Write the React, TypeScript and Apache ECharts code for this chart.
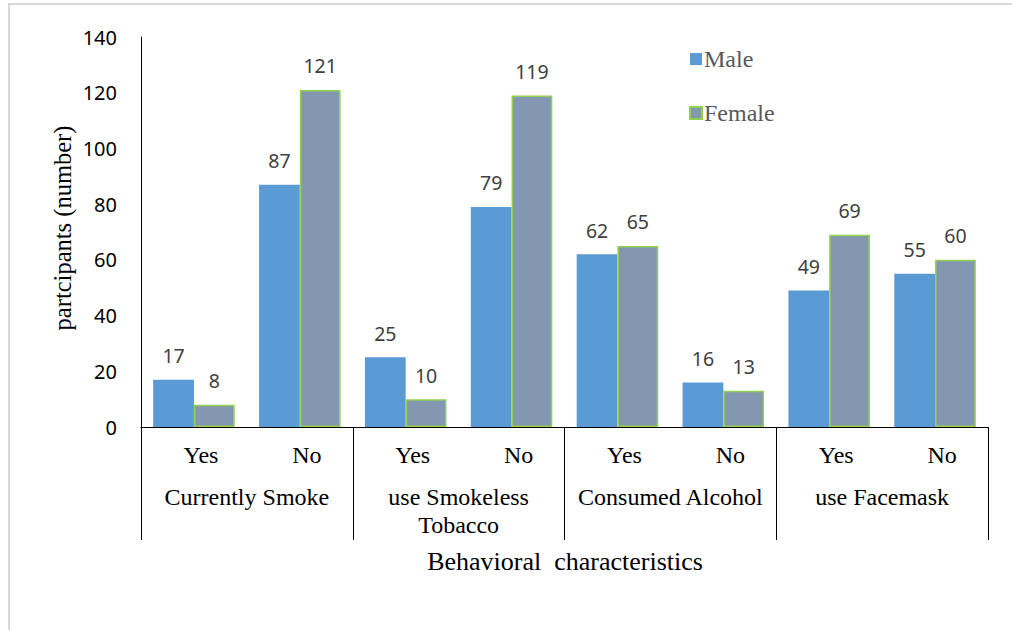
import React, { useEffect, useRef } from "react";
import * as echarts from "echarts";

// Behaviour questions, each answered Yes / No, split by sex
const answers = ["Yes", "No", "Yes", "No", "Yes", "No", "Yes", "No"];
const groups = ["Currently Smoke", "use Smokeless\nTobacco", "Consumed Alcohol", "use Facemask"];
const maleCounts = [17, 87, 25, 79, 62, 16, 49, 55];
const femaleCounts = [8, 121, 10, 119, 65, 13, 69, 60];
const yTicks = { min: 0, max: 140, interval: 20 };

const SERIF = "'Liberation Serif', 'Times New Roman', serif";
const SANS = "'Noto Sans', 'Open Sans', sans-serif";

export default function App() {
  const ref = useRef<HTMLDivElement>(null);

  useEffect(() => {
    document.body.style.margin = "0";
    if (!ref.current) return;
    const chart = echarts.init(ref.current, null, { renderer: "svg" });

    const valueLabel = {
      show: true,
      position: "top" as const,
      distance: 14,
      fontFamily: SANS,
      fontSize: 19.5,
      color: "#404040",
    };

    chart.setOption({
      animation: false,
      backgroundColor: "#ffffff",
      grid: { left: 141, right: 24, top: 37, bottom: 203, containLabel: false },
      legend: {
        orient: "vertical",
        left: 684,
        top: 42,
        itemGap: 30,
        itemWidth: 12,
        itemHeight: 12,
        icon: "rect",
        textStyle: { fontFamily: SERIF, fontSize: 24, color: "#595959", padding: [0, 0, 0, -3] },
        data: ["Male", "Female"],
      },
      xAxis: [
        {
          type: "category",
          data: answers,
          position: "bottom",
          axisLine: { show: true, lineStyle: { color: "#000", width: 1 } },
          axisTick: { show: false },
          axisLabel: {
            fontFamily: SERIF,
            fontSize: 24,
            color: "#000",
            margin: 16,
            padding: [0, 0, 0, 14],
            interval: 0,
          },
        },
        {
          type: "category",
          data: groups,
          position: "bottom",
          axisLine: { show: false },
          axisTick: { show: true, length: 113, lineStyle: { color: "#000", width: 1 } },
          axisLabel: {
            fontFamily: SERIF,
            fontSize: 24,
            color: "#000",
            margin: 56,
            lineHeight: 28,
            interval: 0,
          },
        },
      ],
      yAxis: {
        type: "value",
        min: yTicks.min,
        max: yTicks.max,
        interval: yTicks.interval,
        axisLine: { show: true, lineStyle: { color: "#000", width: 1 } },
        axisTick: { show: false },
        splitLine: { show: false },
        axisLabel: { fontFamily: SANS, fontSize: 20, color: "#000", margin: 24 },
      },
      series: [
        {
          name: "Male",
          type: "bar",
          data: maleCounts,
          barGap: "0%",
          barCategoryGap: "23%",
          itemStyle: { color: "#5B9BD5" },
          label: valueLabel,
        },
        {
          name: "Female",
          type: "bar",
          data: femaleCounts,
          barGap: "0%",
          barCategoryGap: "23%",
          itemStyle: { color: "#8497B0", borderColor: "#92D050", borderWidth: 1.5 },
          label: valueLabel,
        },
      ],
      graphic: [
        {
          type: "rect",
          shape: { x: 9, y: 4, width: 1200, height: 800 },
          style: { fill: "none", stroke: "#d9d9d9", lineWidth: 2 },
          silent: true,
        },
        {
          type: "text",
          x: 62,
          y: 228,
          rotation: Math.PI / 2,
          style: {
            text: "partcipants (number)",
            fontFamily: SERIF,
            fontSize: 24.5,
            fill: "#000",
            align: "center",
            verticalAlign: "middle",
          },
        },
        {
          type: "text",
          x: 565,
          y: 561,
          style: {
            text: "Behavioral  characteristics",
            fontFamily: SERIF,
            fontSize: 26,
            fill: "#000",
            align: "center",
            verticalAlign: "middle",
          },
        },
      ],
    });

    return () => chart.dispose();
  }, []);

  return <div ref={ref} style={{ width: 1012, height: 630 }} />;
}
